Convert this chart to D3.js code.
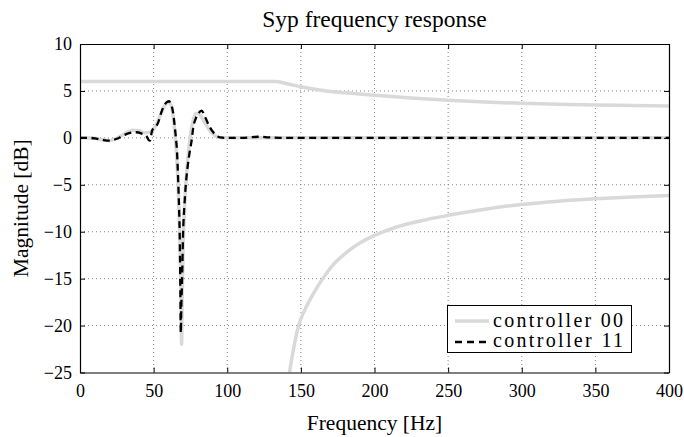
<!DOCTYPE html>
<html><head><meta charset="utf-8">
<script src="https://cdn.jsdelivr.net/npm/d3@7"></script>
<style>body{margin:0;background:#fff}svg{display:block}text{font-family:"Liberation Serif","Times New Roman",serif;fill:#000}</style>
</head><body>
<svg id="c" width="684" height="437"></svg>
<script>
// ---- data ----
const title = "Syp frequency response";
const xLabel = "Frequency [Hz]";
const yLabel = "Magnitude [dB]";
const xTicks = [0, 50, 100, 150, 200, 250, 300, 350, 400];
const yTicks = [10, 5, 0, -5, -10, -15, -20, -25];
const legendLabels = ["controller 00", "controller 11"];

// controller 00, upper branch
const c00UpperF = [0, 133, 140, 150, 165, 180, 200, 225, 250, 275, 300, 325, 350, 375, 400];
const c00UpperDb = [6, 6, 5.8, 5.45, 5.05, 4.8, 4.55, 4.25, 4.0, 3.82, 3.68, 3.58, 3.5, 3.45, 3.4];
// controller 00, lower branch
const c00LowerF = [142.3, 143.5, 144.9, 146.5, 148.3, 150, 154, 158.5, 164.8, 172, 181, 190, 200, 215, 231, 250, 275, 300, 325, 350, 375, 400];
const c00LowerDb = [-25, -23.8, -22.6, -21.3, -20.1, -19.3, -17.9, -16.6, -15, -13.5, -12.2, -11.2, -10.4, -9.5, -8.85, -8.25, -7.6, -7.1, -6.75, -6.5, -6.3, -6.15];
// controller 00, low-frequency branch
const c00LowF = [0, 10, 15, 20, 25, 30, 36, 40, 44, 48, 51, 54, 57, 59.5, 61.5, 63, 64.5, 66, 67, 68, 68.6, 69, 69.4, 70, 71, 72.5, 74, 75.5, 77, 78.5, 80.5, 83, 86, 89, 92, 96, 100, 150, 200, 300, 400];
const c00LowDb = [0, -0.05, -0.2, -0.3, -0.05, 0.4, 0.8, 0.75, 0.55, 0.6, 1.2, 2.2, 3.3, 3.8, 3.6, 2.6, 0.5, -3, -6.5, -12, -17, -22, -17, -12, -7.5, -3.5, -1, 0.8, 1.9, 2.6, 2.6, 2.1, 1.3, 0.6, 0.2, 0, 0, 0, 0, 0, 0];
// controller 11
const c11F = [0, 5, 10, 15, 20, 25, 30, 35, 38, 42, 45, 46.5, 47.5, 49, 51, 53, 55, 57, 59, 60.5, 62, 63, 64, 65, 65.9, 66.8, 67.3, 67.7, 68.1, 68.45, 68.8, 69.3, 70, 71, 71.8, 73, 74.5, 75.8, 77, 78.5, 80.4, 82.6, 85, 88.3, 91.6, 95, 100, 110, 117, 122, 128, 135, 150, 200, 250, 300, 350, 400];
const c11Db = [0, 0, -0.05, -0.2, -0.3, -0.1, 0.3, 0.55, 0.6, 0.45, 0.2, -0.2, -0.3, 0.8, 1.1, 1.6, 2.6, 3.4, 3.8, 3.9, 3.5, 2.9, 1.7, 0.2, -1.5, -5.1, -7.6, -10.2, -15.3, -20.8, -18, -15.3, -10.2, -7, -5.1, -3.2, -1.5, -0.3, 1.2, 2.0, 2.6, 2.9, 2.2, 1.1, 0.4, 0.05, 0, 0, 0.08, 0.12, 0.06, 0, 0, 0, 0, 0, 0, 0];

// ---- layout ----
const L = 80, R = 669, T = 44, B = 372.5;
const svg = d3.select("#c");
const x = d3.scaleLinear().domain([0, 400]).range([L, R]);
const y = d3.scaleLinear().domain([-25, 10]).range([B, T]);

// grid
const grid = svg.append("g").attr("stroke", "#666").attr("stroke-width", 0.8).attr("stroke-dasharray", "1,3");
grid.selectAll(".gx").data(xTicks.filter(d => d > 0 && d < 400)).join("line")
  .attr("x1", d => x(d)).attr("x2", d => x(d)).attr("y1", T).attr("y2", B);
grid.selectAll(".gy").data(yTicks.filter(d => d > -25 && d < 10)).join("line")
  .attr("y1", d => y(d)).attr("y2", d => y(d)).attr("x1", L).attr("x2", R);

// lines
svg.append("clipPath").attr("id", "clip").append("rect").attr("x", L).attr("y", T).attr("width", R - L).attr("height", B - T);
const line = d3.line().x(d => x(d[0])).y(d => y(d[1])).curve(d3.curveMonotoneX);
const zip = (a, b) => a.map((v, i) => [v, b[i]]);
const plot = svg.append("g").attr("clip-path", "url(#clip)").attr("fill", "none");
[[c00UpperF, c00UpperDb], [c00LowerF, c00LowerDb], [c00LowF, c00LowDb]].forEach(([f, v]) => {
  plot.append("path").attr("d", line(zip(f, v))).attr("stroke", "#d9d9d9").attr("stroke-width", 3.5);
});
plot.append("path").attr("d", line(zip(c11F, c11Db))).attr("stroke", "#000").attr("stroke-width", 2.3).attr("stroke-dasharray", "7,4.5");

// axes (inward ticks)
const fmt = d => d < 0 ? "\u2212" + Math.abs(d) : String(d);
const axB = svg.append("g").attr("transform", `translate(0,${B})`).call(d3.axisBottom(x).tickValues(xTicks).tickSize(-5).tickSizeOuter(0).tickFormat(fmt));
const axT = svg.append("g").attr("transform", `translate(0,${T})`).call(d3.axisTop(x).tickValues(xTicks).tickSize(-5).tickSizeOuter(0).tickFormat(""));
const axLft = svg.append("g").attr("transform", `translate(${L},0)`).call(d3.axisLeft(y).tickValues(yTicks).tickSize(-5).tickSizeOuter(0).tickFormat(fmt));
const axRgt = svg.append("g").attr("transform", `translate(${R},0)`).call(d3.axisRight(y).tickValues(yTicks).tickSize(-5).tickSizeOuter(0).tickFormat(""));
[axB, axT, axLft, axRgt].forEach(a => {
  a.select(".domain").attr("stroke", "#000").attr("stroke-width", 1.2);
  a.selectAll(".tick line").attr("stroke", "#000").attr("stroke-width", 1);
  a.selectAll("text").attr("font-family", "Liberation Serif, serif").attr("font-size", 18).attr("fill", "#000");
});
axB.selectAll(".tick text").attr("dy", null).attr("y", 24.5);
axLft.selectAll(".tick text").attr("x", -8).attr("dy", "0.33em");

// titles
svg.append("text").attr("x", (L + R) / 2).attr("y", 26.5).attr("text-anchor", "middle").attr("font-size", 23.5).text(title);
svg.append("text").attr("x", (L + R) / 2).attr("y", 430).attr("text-anchor", "middle").attr("font-size", 21.5).text(xLabel);
svg.append("text").attr("transform", `translate(28,${(T + B) / 2}) rotate(-90)`).attr("text-anchor", "middle").attr("font-size", 21.5).text(yLabel);

// legend
const lg = svg.append("g");
lg.append("rect").attr("x", 447.5).attr("y", 305.5).attr("width", 184).attr("height", 47).attr("fill", "#fff").attr("stroke", "#000").attr("stroke-width", 1);
lg.append("line").attr("x1", 455).attr("x2", 489).attr("y1", 321).attr("y2", 321).attr("stroke", "#d9d9d9").attr("stroke-width", 3.5);
lg.append("line").attr("x1", 455).attr("x2", 490).attr("y1", 342).attr("y2", 342).attr("stroke", "#000").attr("stroke-width", 2.3).attr("stroke-dasharray", "7,5");
lg.selectAll(".lt").data(legendLabels).join("text")
  .attr("x", 493).attr("y", (d, i) => 326.5 + i * 20.5)
  .attr("font-size", 20).attr("textLength", 130).attr("lengthAdjust", "spacing").text(d => d);
</script>
</body></html>
